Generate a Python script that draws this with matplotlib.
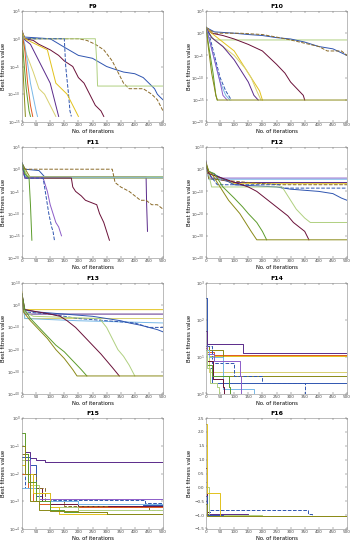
import matplotlib
matplotlib.use('Agg')
import matplotlib.pyplot as plt

# line styles per algorithm (no legend in the original figure)
styles = {
    'A': dict(color='#2f55b0', ls='-'),
    'B': dict(color='#2f55b0', ls='--'),
    'C': dict(color='#5a2a8a', ls='-'),
    'D': dict(color='#6a1038', ls='-'),
    'E': dict(color='#8a8a18', ls='-'),
    'F': dict(color='#e2c21c', ls='-'),
    'G': dict(color='#b0d080', ls='-'),
    'H': dict(color='#78b8e8', ls='-'),
    'I': dict(color='#8a6a28', ls='--'),
    'J': dict(color='#5c9c2c', ls='-'),
    'K': dict(color='#e05a20', ls='-'),
    'L': dict(color='#8c5cc8', ls='-'),
    'M': dict(color='#d8d070', ls='-'),
}

iters_ticks = [0, 50, 100, 150, 200, 250, 300, 350, 400, 450, 500]

# ---- F9 ----
f9 = {
    'A': ([0, 10, 100, 150, 200, 250, 300, 330, 360, 400, 430, 450, 470, 480, 490, 500],
          [1e1, 2e0, 1e0, 3e-2, 1e-3, 3e-4, 1e-5, 3e-6, 1e-6, 5e-7, 1e-7, 1e-8, 1e-9, 1e-10, 3e-11, 1e-11]),
    'I': ([0, 10, 200, 230, 260, 290, 320, 340, 360, 380, 430, 460, 480, 490, 500],
          [1e1, 1e0, 1e0, 5e-1, 1e-1, 1e-2, 1e-4, 1e-6, 1e-8, 1e-9, 1e-9, 1e-10, 1e-11, 1e-12, 1e-13]),
    'G': ([0, 10, 260, 265, 268, 500], [1e1, 1e0, 1e0, 1e-4, 3e-9, 3e-9]),
    'D': ([0, 10, 40, 60, 100, 130, 150, 180, 200, 220, 240, 260, 280, 290],
          [3e1, 1e0, 5e-1, 1e-1, 1e-2, 1e-3, 1e-4, 1e-5, 1e-7, 1e-8, 1e-10, 1e-12, 1e-13, 1e-14]),
    'B': ([0, 10, 150, 155, 165, 170, 175], [2e1, 1e0, 1e0, 1e-5, 1e-10, 1e-13, 1e-14]),
    'C': ([0, 5, 30, 50, 60, 80, 100, 110, 120, 130],
          [2e1, 1e0, 1e-1, 1e-3, 1e-4, 1e-6, 1e-8, 1e-10, 1e-12, 1e-14]),
    'F': ([0, 10, 50, 90, 100, 110, 120, 140, 160, 180, 200],
          [2e1, 1e0, 1e-1, 1e-2, 1e-4, 1e-6, 1e-8, 1e-9, 1e-10, 1e-12, 1e-14]),
    'M': ([0, 10, 40, 60, 80, 100, 120], [1e1, 1e-2, 1e-6, 1e-9, 1e-10, 1e-12, 1e-14]),
    'H': ([0, 10, 30, 50, 55], [1e1, 1e-1, 1e-8, 1e-13, 1e-14]),
    'K': ([0, 10, 20, 30, 38], [1e1, 1e-2, 1e-8, 1e-12, 1e-14]),
    'J': ([0, 5, 15, 25, 30], [1e1, 1e-3, 1e-9, 1e-13, 1e-14]),
    'E': ([0, 3, 8, 12], [1e1, 1e-5, 1e-10, 1e-14]),
}

# ---- F10 ----
f10 = {
    'G': ([0, 10, 30, 500], [2e1, 1e0, 3e-2, 3e-2]),
    'A': ([0, 30, 100, 150, 200, 250, 300, 350, 400, 450, 500],
          [2e1, 2e0, 1e0, 5e-1, 3e-1, 1e-1, 5e-2, 1e-2, 1e-3, 3e-4, 1e-5]),
    'I': ([0, 30, 120, 200, 260, 300, 400, 430, 480, 500],
          [2e1, 1e0, 1e0, 5e-1, 1e-1, 3e-2, 1e-3, 1e-4, 1e-4, 1e-5]),
    'D': ([0, 20, 60, 100, 150, 200, 250, 280, 300, 330, 345, 350],
          [2e1, 1e0, 3e-1, 5e-2, 3e-3, 1e-4, 1e-7, 1e-9, 1e-11, 1e-13, 1e-14, 8.9e-16]),
    'F': ([0, 20, 60, 100, 120, 150, 170, 190, 200],
          [2e1, 1e0, 1e-2, 1e-4, 1e-6, 1e-9, 1e-11, 1e-13, 8.9e-16]),
    'M': ([0, 20, 60, 100, 140, 160, 180, 195],
          [2e1, 1e-1, 1e-3, 1e-5, 1e-8, 1e-10, 1e-13, 8.9e-16]),
    'C': ([0, 20, 60, 100, 130, 150, 170, 185],
          [2e1, 1e-1, 1e-3, 1e-6, 1e-9, 1e-11, 1e-14, 8.9e-16]),
    'B': ([0, 10, 30, 50, 70, 90], [2e1, 1e0, 1e-5, 1e-10, 1e-13, 8.9e-16]),
    'H': ([0, 10, 30, 50, 70, 85], [2e1, 1e-1, 1e-6, 1e-11, 1e-14, 8.9e-16]),
    'L': ([0, 10, 30, 50, 60, 75], [2e1, 1e-1, 1e-6, 1e-11, 1e-14, 8.9e-16]),
    'J': ([0, 10, 25, 35, 40], [2e1, 1e-3, 1e-9, 1e-14, 8.9e-16]),
    'E': ([0, 8, 20, 35, 40, 500], [2e1, 1e-3, 1e-9, 1e-14, 8.9e-16, 8.9e-16]),
}

# ---- F11 ----
f11 = {
    'A': ([0, 10, 60, 80, 500], [3e1, 1e0, 5e-1, 2e-2, 2e-2]),
    'C': ([0, 10, 440, 442, 445], [2e1, 2e-2, 2e-2, 1e-8, 1e-14]),
    'E': ([0, 30, 500], [2e1, 1e-2, 1e-2]),
    'F': ([0, 20, 500], [1e1, 1.5e-2, 1.5e-2]),
    'G': ([0, 20, 500], [1e1, 2e-2, 2e-2]),
    'H': ([0, 15, 500], [2e1, 1.2e-2, 1.2e-2]),
    'I': ([0, 10, 40, 320, 330, 350, 380, 400, 420, 440, 460, 480, 500],
          [2e1, 1e0, 1e0, 1e0, 1e-3, 1e-4, 1e-5, 1e-6, 1e-7, 1e-7, 1e-8, 1e-8, 1e-9]),
    'D': ([0, 10, 175, 180, 190, 210, 225, 265, 275, 290, 300, 310],
          [2e1, 1e-2, 1e-2, 1e-4, 1e-5, 1e-6, 1e-7, 1e-8, 1e-10, 1e-12, 1e-14, 1e-16]),
    'L': ([0, 10, 75, 90, 100, 110, 120, 130, 140],
          [2e1, 1e-2, 1e-2, 1e-5, 1e-8, 1e-10, 1e-12, 1e-13, 1e-15]),
    'B': ([0, 10, 75, 85, 95, 105, 110, 115], [2e1, 1e-2, 1e-2, 1e-6, 1e-10, 1e-13, 1e-14, 1e-16]),
    'J': ([0, 10, 25, 30, 35], [2e1, 1e-1, 1e-2, 1e-8, 1e-16]),
}

# ---- F12 ----
f12 = {
    'C': ([0, 5, 20, 100, 500], [5e3, 1e0, 1e-4, 1e-6, 1e-6]),
    'F': ([0, 10, 100, 500], [1e2, 1e-2, 3e-7, 3e-7]),
    'L': ([0, 10, 500], [1e2, 1e-4, 1e-4]),
    'H': ([0, 10, 500], [1e2, 3e-5, 3e-5]),
    'I': ([0, 10, 150, 260, 500], [5e1, 5e-5, 1e-6, 1e-7, 1e-7]),
    'B': ([0, 10, 40, 260, 270, 500], [1e2, 1e-2, 1e-7, 1e-7, 3e-9, 3e-9]),
    'A': ([0, 10, 100, 250, 300, 400, 450, 480, 500],
          [1e2, 1e-1, 1e-7, 1e-8, 1e-9, 1e-10, 1e-11, 1e-13, 1e-14]),
    'G': ([0, 5, 20, 270, 290, 320, 350, 370, 500],
          [1e2, 1e0, 1e-8, 1e-8, 1e-12, 1e-18, 1e-22, 1e-24, 1e-24]),
    'D': ([0, 10, 150, 180, 200, 230, 260, 290, 310, 330, 350, 365],
          [1e2, 1e-2, 1e-8, 1e-10, 1e-12, 1e-15, 1e-18, 1e-21, 1e-24, 1e-26, 1e-28, 1.57e-32]),
    'J': ([0, 10, 30, 60, 100, 130, 150, 180, 200, 215],
          [1e2, 1e-1, 1e-2, 1e-8, 1e-13, 1e-17, 1e-20, 1e-24, 1e-28, 1.57e-32]),
    'E': ([0, 10, 20, 40, 60, 80, 100, 120, 140, 160, 180, 500],
          [1e3, 1e-1, 1e-2, 1e-6, 1e-10, 1e-14, 1e-17, 1e-20, 1e-24, 1e-28, 1.57e-32, 1.57e-32]),
}

# ---- F13 ----
f13 = {
    'F': ([0, 5, 500], [1e6, 1e-2, 1e-2]),
    'C': ([0, 10, 500], [1e5, 1e-4, 1e-4]),
    'M': ([0, 10, 500], [1e5, 1e-6, 1e-6]),
    'H': ([0, 10, 200, 500], [1e5, 1e-6, 1e-7, 1e-8]),
    'A': ([0, 5, 50, 150, 250, 300, 350, 380, 420, 450, 480, 500],
          [1e5, 1e-2, 1e-3, 1e-4, 1e-5, 1e-6, 1e-7, 1e-8, 1e-9, 1e-10, 1e-11, 1e-12]),
    'B': ([0, 10, 100, 200, 300, 400, 450, 500], [1e5, 1e-3, 1e-4, 1e-6, 1e-7, 1e-8, 1e-10, 1e-10]),
    'G': ([0, 10, 40, 275, 300, 320, 340, 360, 380, 400],
          [1e5, 1e-3, 1e-5, 1e-6, 1e-10, 1e-15, 1e-20, 1e-23, 1e-27, 1.35e-32]),
    'D': ([0, 10, 100, 135, 160, 190, 220, 250, 280, 300, 320, 345],
          [1e5, 1e-2, 1e-4, 1e-5, 1e-7, 1e-10, 1e-14, 1e-18, 1e-22, 1e-25, 1e-28, 1.35e-32]),
    'J': ([0, 10, 30, 60, 90, 120, 150, 180, 210, 230],
          [1e5, 1e-2, 1e-6, 1e-10, 1e-14, 1e-18, 1e-21, 1e-25, 1e-29, 1.35e-32]),
    'E': ([0, 5, 30, 60, 90, 120, 150, 180, 195, 500],
          [1e5, 1e-3, 1e-7, 1e-11, 1e-15, 1e-20, 1e-24, 1e-29, 1.35e-32, 1.35e-32]),
}

# ---- F14 ----
f14 = {
    'A': ([0, 3, 10, 20, 500], [400, 12, 5, 2, 2]),
    'C': ([0, 5, 130, 500], [50, 22, 12.67, 12.67]),
    'F': ([0, 10, 500], [20, 10.76, 10.76]),
    'M': ([0, 10, 500], [15, 3.97, 3.97]),
    'K': ([0, 5, 30, 500], [18, 14, 11.5, 11.5]),
    'E': ([0, 10, 60, 80, 500], [20, 15, 3, 2.98, 2.98]),
    'B': ([0, 20, 100, 200, 345, 350], [20, 6.9, 2.98, 1.99, 1.99, 0.998]),
    'H': ([0, 10, 60, 165, 170], [15, 10, 1.4, 1.4, 0.998]),
    'D': ([0, 5, 25, 60, 65], [20, 8, 2.5, 1.5, 0.998]),
    'J': ([0, 5, 20, 80, 85], [20, 6, 3, 1.5, 0.998]),
    'L': ([0, 5, 30, 120, 125], [20, 12, 8, 3, 0.998]),
    'G': ([0, 5, 15, 40, 45], [15, 5, 2, 1.5, 0.998]),
}

# ---- F15 ----
f15 = {
    'C': ([0, 10, 30, 50, 80, 150, 500], [1e-1, 6e-2, 3.5e-2, 3e-2, 2.7e-2, 2.6e-2, 2.5e-2]),
    'B': ([0, 10, 50, 100, 435, 500], [1e-2, 3e-3, 2e-3, 1.1e-3, 8.6e-4, 8.6e-4]),
    'A': ([0, 30, 50, 70, 200, 430, 500], [4e-2, 2e-2, 1.5e-3, 1e-3, 8e-4, 7.5e-4, 7.5e-4]),
    'D': ([0, 20, 40, 70, 100, 200, 500], [3e-2, 1e-2, 3e-3, 1e-3, 8e-4, 7e-4, 7e-4]),
    'I': ([0, 20, 50, 80, 150, 300, 450, 500], [5e-2, 1e-2, 3e-3, 1e-3, 7e-4, 6e-4, 5e-4, 5e-4]),
    'L': ([0, 10, 30, 40, 60, 500], [1e-1, 3e-2, 5e-3, 2e-3, 1.2e-3, 1.1e-3]),
    'K': ([0, 20, 40, 60, 100, 500], [1e-2, 3e-3, 1e-3, 8e-4, 6e-4, 4.5e-4]),
    'H': ([0, 50, 200, 500], [3e-3, 1e-3, 8e-4, 6e-4]),
    'G': ([0, 10, 30, 60, 100, 200, 500], [3e-2, 1e-2, 4e-3, 1e-3, 6e-4, 5e-4, 4e-4]),
    'F': ([0, 10, 40, 100, 130, 500], [2e-2, 1e-2, 2e-3, 6e-4, 3.5e-4, 3.5e-4]),
    'J': ([0, 10, 20, 50, 100, 150, 300, 500], [3e-1, 5e-2, 5e-3, 1e-3, 5e-4, 4e-4, 3.5e-4, 3.1e-4]),
    'E': ([0, 10, 30, 60, 100, 200, 300, 500], [1e-1, 1e-2, 1e-3, 5e-4, 4.5e-4, 4e-4, 3.5e-4, 3.1e-4]),
}

# ---- F16 ----
f16 = {
    'B': ([0, 5, 15, 350, 360, 375, 500], [0.2, -0.9, -0.8, -0.8, -0.95, -1.0316, -1.0316]),
    'D': ([0, 3, 10, 500], [0.7, -0.9, -1.0316, -1.0316]),
    'C': ([0, 5, 140, 150, 500], [-0.5, -0.97, -0.97, -1.0316, -1.0316]),
    'G': ([0, 10, 200, 500], [0.0, -1.0, -1.0316, -1.0316]),
    'A': ([0, 5, 60, 500], [-0.3, -1.0, -1.0316, -1.0316]),
    'F': ([0, 3, 5, 45, 50, 500], [2.3, 0.5, -0.2, -0.2, -1.0316, -1.0316]),
    'E': ([0, 5, 500], [-0.6, -1.0316, -1.0316]),
}

panels = [
    ('F9', f9, 'log', (1e-15, 1e5), [1e-15, 1e-10, 1e-5, 1e0, 1e5], 'default'),
    ('F10', f10, 'log', (1e-20, 1e5), [1e-20, 1e-15, 1e-10, 1e-5, 1e0, 1e5], 'default'),
    ('F11', f11, 'log', (1e-20, 1e5), [1e-20, 1e-15, 1e-10, 1e-5, 1e0, 1e5], 'default'),
    ('F12', f12, 'log', (1e-40, 1e10), [1e-40, 1e-30, 1e-20, 1e-10, 1e0, 1e10], 'default'),
    ('F13', f13, 'log', (1e-40, 1e10), [1e-40, 1e-30, 1e-20, 1e-10, 1e0, 1e10], 'default'),
    ('F14', f14, 'log', (1e0, 1e3), [1e0, 1e1, 1e2, 1e3], 'steps-post'),
    ('F15', f15, 'log', (1e-4, 1e0), [1e-4, 1e-3, 1e-2, 1e-1, 1e0], 'steps-post'),
    ('F16', f16, 'linear', (-1.5, 2.5), [-1.5, -1, -0.5, 0, 0.5, 1, 1.5, 2, 2.5], 'steps-post'),
]

W, H = 353, 550
fig = plt.figure(figsize=(W / 100, H / 100), dpi=100)
lefts = [22, 206]
tops = [11, 147, 283, 418]
aw, ah = 141, 111
ylab_x = [-0.115, -0.1]

for i, (title, series, scale, ylim, yticks, dstyle) in enumerate(panels):
    row, col = divmod(i, 2)
    ax = fig.add_axes([lefts[col] / W, 1 - (tops[row] + ah) / H, aw / W, ah / H])
    for key, (x, y) in series.items():
        st = styles[key]
        ax.plot(x, y, color=st['color'], ls=st['ls'], lw=0.7, drawstyle=dstyle)
    ax.set_yscale(scale)
    ax.set_xlim(0, 500)
    ax.set_ylim(*ylim)
    ax.set_xticks(iters_ticks)
    ax.set_yticks(yticks)
    ax.minorticks_off()
    ax.tick_params(direction='in', length=1.5, width=0.3, labelsize=3.0, pad=1,
                   top=True, right=True, colors='#444444')
    for sp in ax.spines.values():
        sp.set_linewidth(0.4)
        sp.set_color('#888888')
    ax.set_title(title, fontsize=4.5, fontweight='bold', pad=2)
    ax.set_xlabel('No. of iterations', fontsize=3.8, labelpad=1)
    ax.set_ylabel('Best fitness value', fontsize=3.8)
    ax.yaxis.set_label_coords(ylab_x[col], 0.5)

fig.savefig('out.png', dpi=100)
